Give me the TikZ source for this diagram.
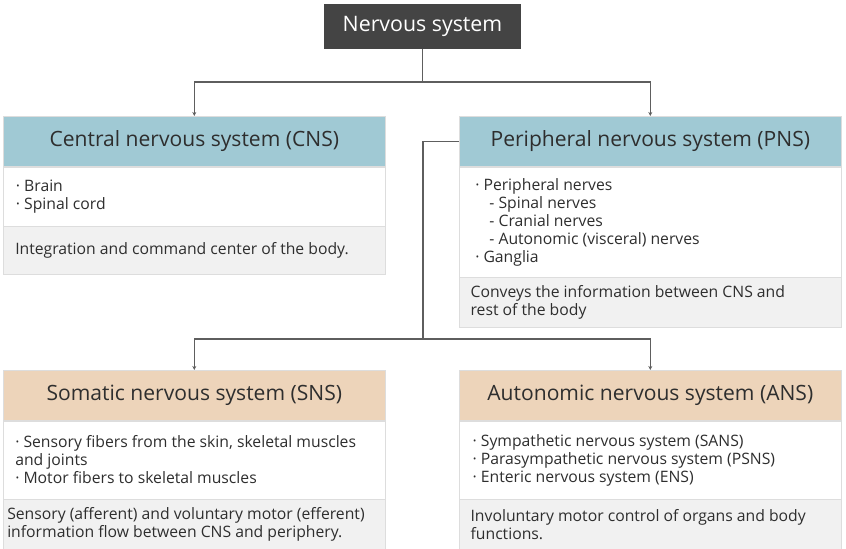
\documentclass[tikz,border=0pt]{standalone}
\usepackage{fontspec}
\setmainfont{Open Sans}
\usetikzlibrary{positioning,arrows.meta}

\definecolor{nsdark}{HTML}{444444}
\definecolor{cnsblue}{HTML}{A0C9D4}
\definecolor{snstan}{HTML}{EDD4BA}
\definecolor{footgrey}{HTML}{F1F1F1}
\definecolor{edgegrey}{HTML}{DDDDDD}
\definecolor{linegrey}{HTML}{5E5E5E}
\definecolor{textdark}{HTML}{2E2E2E}

\begin{document}
\begin{tikzpicture}[x=0.75pt, y=-0.75pt,
    link/.style={draw=linegrey, line width=0.8pt, -{Stealth[length=3pt,width=3pt]}},
    headbox/.style={draw=edgegrey, line width=0.5pt, minimum width=286.5pt,
      minimum height=37.5pt, inner sep=0pt, anchor=north west,
      font=\fontsize{15.8}{18}\selectfont, text=textdark},
    bodybox/.style={draw=edgegrey, line width=0.5pt, fill=white, minimum width=286.5pt, inner sep=0pt},
    footbox/.style={bodybox, fill=footgrey},
    itemtext/.style={anchor=west, align=left, inner sep=0pt,
      font=\fontsize{11.8}{13.5}\selectfont, text=textdark}
  ]
  \useasboundingbox (0,0) rectangle (846,549);

  % Top node
  \node[fill=nsdark, text=white, minimum width=147.75pt, minimum height=33.75pt,
    inner sep=0pt, font=\fontsize{16}{18}\selectfont] (ns) at (422.5,26.5) {Nervous system};

  % Central nervous system
  \node[headbox, fill=cnsblue] (cnshead) at (3,116) {Central nervous system (CNS)};
  \node[bodybox, minimum height=44.25pt, below=0pt of cnshead] (cnsbody) {};
  \node[footbox, minimum height=36pt, below=0pt of cnsbody] (cnsfoot) {};
  \node[itemtext] (cnsitems) at ([xshift=9.5pt]cnsbody.west) {· Brain\\· Spinal cord};
  \node[itemtext] (cnsnote) at ([xshift=9pt]cnsfoot.west) {Integration and command center of the body.};

  % Peripheral nervous system
  \node[headbox, fill=cnsblue] (pnshead) at (459,116) {Peripheral nervous system (PNS)};
  \node[bodybox, minimum height=82.5pt, below=0pt of pnshead] (pnsbody) {};
  \node[footbox, minimum height=37.5pt, below=0pt of pnsbody] (pnsfoot) {};
  \node[itemtext] (pnsitems) at ([xshift=12pt]pnsbody.west)
    {· Peripheral nerves\\
     \hspace*{0.9em}- Spinal nerves\\
     \hspace*{0.9em}- Cranial nerves\\
     \hspace*{0.9em}- Autonomic (visceral) nerves\\
     · Ganglia};
  \node[itemtext] (pnsnote) at ([xshift=8.5pt]pnsfoot.west)
    {Conveys the information between CNS and\\rest of the body};

  % Somatic nervous system
  \node[headbox, fill=snstan] (snshead) at (3,370) {Somatic nervous system (SNS)};
  \node[bodybox, minimum height=58.5pt, below=0pt of snshead] (snsbody) {};
  \node[footbox, minimum height=37.5pt, below=0pt of snsbody] (snsfoot) {};
  \node[itemtext] (snsitems) at ([xshift=9pt]snsbody.west)
    {· Sensory fibers from the skin, skeletal muscles\\
     and joints\\
     · Motor fibers to skeletal muscles};
  \node[itemtext] (snsnote) at ([xshift=3pt]snsfoot.west)
    {Sensory (afferent) and voluntary motor (efferent)\\information flow between CNS and periphery.};

  % Autonomic nervous system
  \node[headbox, fill=snstan] (anshead) at (459,370) {Autonomic nervous system (ANS)};
  \node[bodybox, minimum height=58.5pt, below=0pt of anshead] (ansbody) {};
  \node[footbox, minimum height=37.5pt, below=0pt of ansbody] (ansfoot) {};
  \node[itemtext] (ansitems) at ([xshift=10pt]ansbody.west)
    {· Sympathetic nervous system (SANS)\\
     · Parasympathetic nervous system (PSNS)\\
     · Enteric nervous system (ENS)};
  \node[itemtext] (ansnote) at ([xshift=8.5pt]ansfoot.west)
    {Involuntary motor control of organs and body\\functions.};

  % Connectors
  \coordinate (topbar) at (0,82);
  \coordinate (elbow) at (423,0);
  \coordinate (lowbar) at (0,339);
  \draw[link] (ns.south) -- (ns.south |- topbar) -| (cnshead.north);
  \draw[link] (ns.south |- topbar) -| (pnshead.north);
  \draw[link] (pnshead.west) -- (elbow |- pnshead.west) -- (elbow |- lowbar) -| (snshead.north);
  \draw[link] (elbow |- lowbar) -| (anshead.north);
\end{tikzpicture}
\end{document}
